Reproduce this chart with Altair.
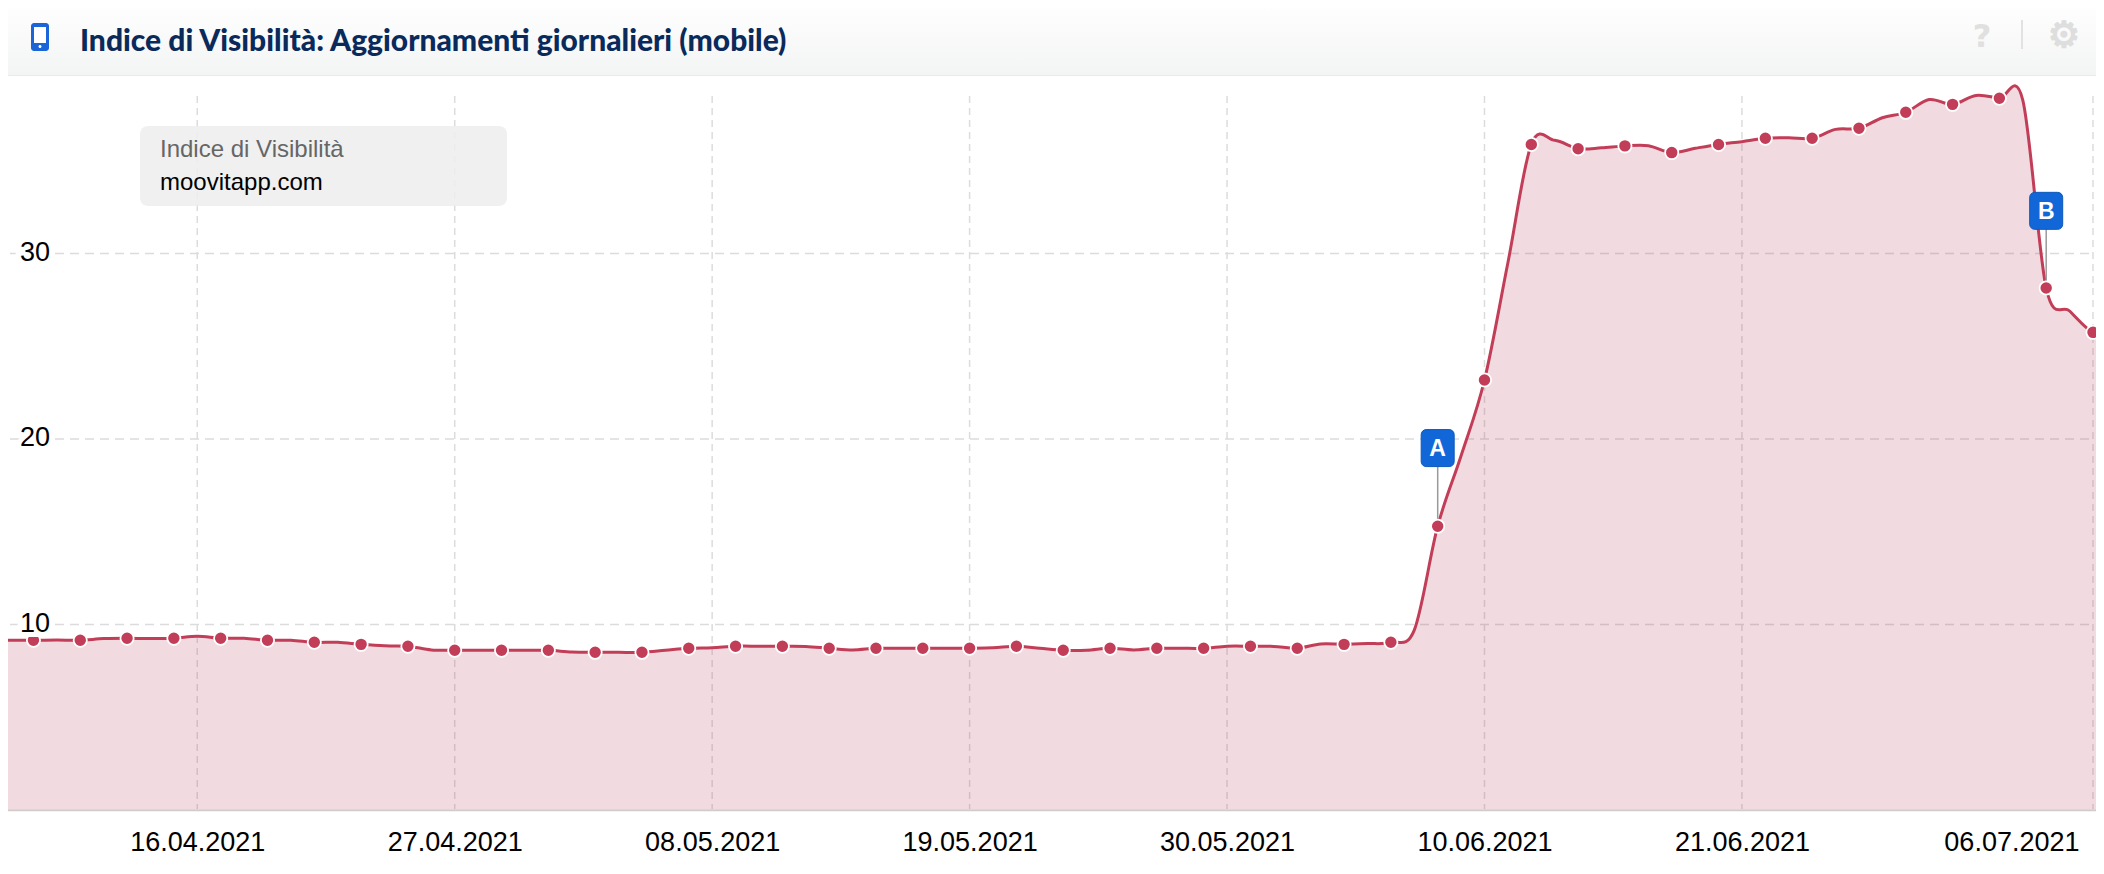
import altair as alt
import pandas as pd

# daily values 07.04.2021 - 07.07.2021
values = [
    9.10, 9.15,
    9.15, 9.16, 9.15, 9.24, 9.26, 9.24, 9.26, 9.37, 9.26, 9.26, 9.15, 9.15, 9.04, 9.04, 8.93, 8.85,
    8.83, 8.63, 8.61, 8.61, 8.61, 8.61, 8.61, 8.52, 8.50, 8.50, 8.50, 8.61, 8.72, 8.75,
    8.83, 8.83, 8.83, 8.82, 8.72, 8.63, 8.72, 8.72, 8.72, 8.72, 8.72, 8.74, 8.83, 8.72,
    8.61, 8.61, 8.72, 8.63, 8.72, 8.72, 8.72, 8.83, 8.83, 8.82, 8.72, 8.95, 8.93, 8.97,
    9.04, 9.70, 15.30, 19.10, 23.18, 29.50, 35.88, 36.10, 35.65, 35.70, 35.80, 35.81, 35.44, 35.67,
    35.88, 36.03, 36.21, 36.24, 36.21, 36.69, 36.75, 37.32, 37.61, 38.30, 38.04, 38.52, 38.37, 38.27,
    28.14, 26.90, 25.75, 25.70,
]
tick_dates = ["2021-04-16", "2021-04-27", "2021-05-08", "2021-05-19", "2021-05-30",
              "2021-06-10", "2021-06-21", "2021-07-06"]
y_ticks = [10, 20, 30]
flag_labels = ["A", "B"]
flag_dates = ["2021-06-08", "2021-07-04"]
flag_points = [15.30, 28.14]
flag_tops = [19.51, 32.30]

RED = "#c23d58"
BLUE = "#1267d8"
FONT = "Liberation Sans"

dates = pd.date_range("2021-04-07", periods=len(values), freq="D")
df = pd.DataFrame({"d": dates.strftime("%Y-%m-%dT00:00:00Z"), "v": values})
markers = df.iloc[2:-1:2]
ticks = pd.DataFrame({"d": [t + "T00:00:00Z" for t in tick_dates]})
ylab = pd.DataFrame({"v": y_ticks})
flags = pd.DataFrame({"d": [t + "T00:00:00Z" for t in flag_dates], "p": flag_points,
                      "t": flag_tops, "l": flag_labels})

x_scale = alt.Scale(type="utc", domain=["2021-04-07T13:42:00Z", "2021-07-06T11:17:00Z"])
y_scale = alt.Scale(domain=[0, 810 / 18.55], nice=False, zero=False)
X = alt.X("d:T", scale=x_scale, title=None,
          axis=alt.Axis(values=ticks["d"].tolist(), format="%d.%m.%Y", labelFont=FONT, labelFontSize=27,
                        labelColor="#000000", ticks=False, grid=False, domainColor="#d0cccc", domainWidth=1.5,
                        labelPadding=40, labelFlush=20, labelFlushOffset=-14, labelOverlap=False,
                        labelBaseline="alphabetic"))
XN = alt.X("d:T", scale=x_scale, title=None)
Y = alt.Y("v:Q", scale=y_scale, axis=None, title=None)
one = pd.DataFrame({"k": [0]})


def box(x, x2, y, y2, color, **kw):
    return alt.Chart(one).mark_rect(color=color, **kw).encode(
        x=alt.value(x), x2=alt.value(x2), y=alt.value(y), y2=alt.value(y2))


def label(x, y, txt, **kw):
    return alt.Chart(one).mark_text(text=txt, baseline="alphabetic", **kw).encode(x=alt.value(x), y=alt.value(y))


header_fill = alt.Gradient(gradient="linear", x1=0, x2=0, y1=0, y2=1,
                           stops=[alt.GradientStop(color="#ffffff", offset=0),
                                  alt.GradientStop(color="#f3f4f4", offset=1)])

vgrid = alt.Chart(ticks).mark_rule(color="#dcdcdc", strokeWidth=1.5, strokeDash=[7, 5]).encode(
    x=X, y=alt.value(96), y2=alt.value(809))
hgrid = alt.Chart(ylab).mark_rule(color="#dcdcdc", strokeWidth=1.5, strokeDash=[9, 6]).encode(
    y=Y, x=alt.value(10), x2=alt.value(2094))
area = alt.Chart(df).mark_area(color="#b8405a", opacity=0.19, interpolate="cardinal", tension=0, clip=True).encode(
    x=XN, y=Y, y2=alt.datum(0))
line = alt.Chart(df).mark_line(color=RED, strokeWidth=3, interpolate="cardinal", tension=0, clip=True).encode(
    x=XN, y=Y)
points = alt.Chart(markers).mark_point(filled=True, fill=RED, stroke="#ffffff", strokeWidth=1.8, opacity=1,
                                       fillOpacity=1, strokeOpacity=1, size=175).encode(x=XN, y=Y)
stems = alt.Chart(flags).mark_rule(color="#999999", strokeWidth=1.5).encode(
    x=XN, y=alt.Y("p:Q", scale=y_scale, axis=None, title=None), y2="t:Q")
flag_box = alt.Chart(flags).mark_rect(width=33, height=37, cornerRadius=5, color=BLUE, stroke="#0c58bb",
                                      strokeWidth=1).encode(
    x=XN, y=alt.Y("t:Q", scale=y_scale, axis=None, title=None))
flag_txt = alt.Chart(flags).mark_text(font=FONT, fontSize=23, fontWeight="bold", color="#ffffff",
                                      baseline="middle", dy=1).encode(
    x=XN, y=alt.Y("t:Q", scale=y_scale, axis=None, title=None), text="l:N")
y_halo = alt.Chart(ylab).mark_text(font=FONT, fontSize=27, align="right", baseline="middle", color="#ffffff",
                                   stroke="#ffffff", strokeWidth=10, dy=-1).encode(
    x=alt.value(50), y=Y, text="v:Q")
y_txt = alt.Chart(ylab).mark_text(font=FONT, fontSize=27, align="right", baseline="middle", color="#000000",
                                  dy=-1).encode(x=alt.value(50), y=Y, text="v:Q")

layers = [
    vgrid, hgrid, area, line, stems, points, flag_box, flag_txt, y_halo, y_txt,
    box(140, 507, 126, 206, "#eeeeee", cornerRadius=8, opacity=0.88),
    label(160, 157, "Indice di Visibilità", font=FONT, fontSize=24, color="#666666", align="left"),
    label(160, 190, "moovitapp.com", font=FONT, fontSize=24, color="#000000", align="left"),
    box(0, 2104, 0, 76, header_fill),
    box(0, 2104, 75, 76, "#e8e9e9"),
    label(80, 51, "Indice di Visibilità: Aggiornamenti giornalieri (mobile)", font="Lato", fontWeight=900,
          fontSize=30, color="#0a2a5c", align="left"),
    box(31, 49, 23, 51, "#1a66d9", cornerRadius=3),
    box(34, 46, 27, 43, "#ffffff"),
    box(38.5, 41.5, 45, 48, "#ffffff", cornerRadius=1.5),
    label(1982, 47, "?", font="DejaVu Sans", fontWeight="bold", fontSize=32, color="#e0e0e0", align="center"),
    box(2021, 2023, 20, 49, "#e2e2e2"),
    label(2064, 47, "⚙", font="DejaVu Sans", fontSize=36, color="#dedede", stroke="#dedede", strokeWidth=1.5,
          align="center"),
]

chart = alt.layer(*layers).properties(
    width=2104, height=810,
    autosize=alt.AutoSizeParams(type="none"),
    padding={"left": -8, "top": -8, "right": -8, "bottom": 56},
    background="#ffffff",
).configure_view(stroke=None)

chart.save("out.html", embed_options={"renderer": "svg", "actions": False})
